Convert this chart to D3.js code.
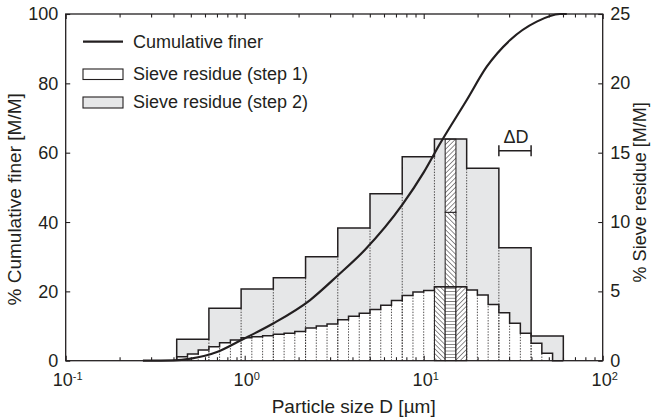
<!DOCTYPE html>
<html>
<head>
<meta charset="utf-8">
<script src="https://cdn.jsdelivr.net/npm/d3@7"></script>
<style>
body { margin: 0; background: #fff; }
text { font-family: "Liberation Sans", Arial, sans-serif; fill: #231f20; }
</style>
</head>
<body>
<div id="custom-container"></div>
<script>
/* Access data */
// sieve classes, step 2 (coarse) edges in µm and residue in % (right axis)
var coarseEdges = [0.417, 0.631, 0.955, 1.445, 2.188, 3.311, 5.012, 7.586, 11.48, 17.38, 26.30, 39.81, 60.26];
var coarseResidue = [1.54, 3.78, 5.17, 5.98, 7.50, 9.57, 12.04, 14.71, 15.98, 13.87, 8.15, 1.78];

// sieve classes, step 1 (fine) edges in µm and residue in % (right axis)
var fineEdges = [0.417, 0.479, 0.550, 0.631, 0.724, 0.832, 0.955, 1.096, 1.259, 1.445, 1.660, 1.905,
  2.188, 2.512, 2.884, 3.311, 3.802, 4.365, 5.012, 5.754, 6.607, 7.586, 8.710, 10.00,
  11.48, 13.18, 15.14, 17.38, 19.95, 22.91, 26.30, 30.20, 34.67, 39.81, 45.71, 52.48, 60.26];
var fineResidue = [0.29, 0.48, 0.77, 1.00, 1.30, 1.50, 1.65, 1.72, 1.80, 1.90, 1.98, 2.10,
  2.35, 2.50, 2.65, 2.95, 3.20, 3.42, 3.70, 4.00, 4.34, 4.70, 4.95, 5.06,
  5.33, 5.33, 5.33, 5.10, 4.74, 4.05, 3.46, 2.70, 1.98, 1.25, 0.53, 0];

// cumulative finer curve, D in µm and % (left axis)
var curveD = [0.27, 0.4, 0.5, 0.7, 0.96, 1.45, 2.32, 3.3, 4.7, 7.6, 10, 12.3, 17.4, 22.5, 30.4, 42.8, 57.7, 63];
var curvePct = [0, 0.1, 0.6, 2.5, 6.0, 10.8, 17.5, 24.5, 32, 45, 54.3, 62.5, 75.2, 84.8, 92.5, 97.8, 100, 100];

// highlighted class (hatched) and the split inside its column
var hatchCoarse = 8;
var hatchSplit = 10.7;
var deltaClass = 10;

var xDecades = [0.1, 1, 10, 100];
var xExponents = ["-1", "0", "1", "2"];
var leftTicks = [0, 20, 40, 60, 80, 100];
var rightTicks = [0, 5, 10, 15, 20, 25];
var legendLabels = ["Cumulative finer", "Sieve residue (step 1)", "Sieve residue (step 2)"];

// 2. Create chart dimensions
var dimensions = {
  width: 659,
  height: 419,
  margin: { top: 14, right: 56.3, bottom: 58.3, left: 65.7 }
};
dimensions.boundedWidth = dimensions.width - dimensions.margin.left - dimensions.margin.right;
dimensions.boundedHeight = dimensions.height - dimensions.margin.top - dimensions.margin.bottom;

var ink = "#231f20";
var grey = "#e6e7e8";

// 3. Draw canvas
var wrapper = d3.select("#custom-container")
  .append("svg")
  .attr("width", dimensions.width)
  .attr("height", dimensions.height);

var defs = wrapper.append("defs");
function hatch(id, angle, size) {
  var p = defs.append("pattern")
    .attr("id", id)
    .attr("patternUnits", "userSpaceOnUse")
    .attr("width", size).attr("height", size)
    .attr("patternTransform", "rotate(" + angle + ")");
  p.append("rect").attr("width", size).attr("height", size).attr("fill", "#fff");
  p.append("line").attr("x1", 0).attr("y1", 0).attr("x2", 0).attr("y2", size)
    .attr("stroke", ink).attr("stroke-width", 1);
}
hatch("back", -45, 3.4);
hatch("fwd", 45, 3.4);
hatch("horiz", 90, 3.3);

var bounds = wrapper.append("g")
  .attr("transform", `translate(${dimensions.margin.left}, ${dimensions.margin.top})`);

// 4. Create scales
var xScale = d3.scaleLog().domain([0.1, 100]).range([0, dimensions.boundedWidth]);
var yLeft = d3.scaleLinear().domain([0, 100]).range([dimensions.boundedHeight, 0]);
var yRight = d3.scaleLinear().domain([0, 25]).range([dimensions.boundedHeight, 0]);

function stepPoints(edges, values) {
  var pts = [[edges[0], 0]];
  values.forEach(function (v, i) {
    pts.push([edges[i], v]);
    pts.push([edges[i + 1], v]);
  });
  pts.push([edges[edges.length - 1], 0]);
  return pts;
}
var stepLine = d3.line()
  .x(d => xScale(d[0]))
  .y(d => yRight(d[1]));

// 5. Draw data
var coarsePts = stepPoints(coarseEdges, coarseResidue);
var finePts = stepPoints(fineEdges, fineResidue);

bounds.append("path").attr("d", stepLine(coarsePts) + "Z").attr("fill", grey);
bounds.append("path").attr("d", stepLine(finePts) + "Z").attr("fill", "#fff");

// dotted class boundaries
var dotted = [];
fineEdges.slice(1, -1).forEach(function (e, k) {
  var top = Math.min(fineResidue[k], fineResidue[k + 1]);
  dotted.push([e, top]);
});
coarseEdges.slice(1, -1).forEach(function (e, k) {
  var top = Math.min(coarseResidue[k], coarseResidue[k + 1]);
  dotted.push([e, top]);
});
bounds.append("g").selectAll("line").data(dotted).join("line")
  .attr("x1", d => xScale(d[0])).attr("x2", d => xScale(d[0]))
  .attr("y1", yRight(0)).attr("y2", d => yRight(d[1]))
  .attr("stroke", ink).attr("stroke-width", 0.8)
  .attr("stroke-dasharray", "1.4,1.4");

// hatched class
var f0 = hatchCoarse * 3;
var hatchRects = [
  { a: fineEdges[f0], b: fineEdges[f0 + 1], lo: 0, hi: fineResidue[f0], fill: "url(#back)" },
  { a: fineEdges[f0 + 1], b: fineEdges[f0 + 2], lo: 0, hi: fineResidue[f0 + 1], fill: "url(#horiz)" },
  { a: fineEdges[f0 + 2], b: fineEdges[f0 + 3], lo: 0, hi: fineResidue[f0 + 2], fill: "url(#fwd)" },
  { a: fineEdges[f0 + 1], b: fineEdges[f0 + 2], lo: fineResidue[f0 + 1], hi: hatchSplit, fill: "url(#back)" },
  { a: fineEdges[f0 + 1], b: fineEdges[f0 + 2], lo: hatchSplit, hi: coarseResidue[hatchCoarse], fill: "url(#fwd)" }
];
bounds.append("g").selectAll("rect").data(hatchRects).join("rect")
  .attr("x", d => xScale(d.a))
  .attr("width", d => xScale(d.b) - xScale(d.a))
  .attr("y", d => yRight(d.hi))
  .attr("height", d => yRight(d.lo) - yRight(d.hi))
  .attr("fill", d => d.fill)
  .attr("stroke", ink).attr("stroke-width", 1);

bounds.append("path").attr("d", stepLine(coarsePts))
  .attr("fill", "none").attr("stroke", ink).attr("stroke-width", 1.5);
bounds.append("path").attr("d", stepLine(finePts))
  .attr("fill", "none").attr("stroke", ink).attr("stroke-width", 1.5);

// cumulative curve
var curveData = curveD.map((d, i) => ({ x: d, y: curvePct[i] }));
var lineGenerator = d3.line()
  .x(d => xScale(d.x))
  .y(d => yLeft(d.y))
  .curve(d3.curveMonotoneX);
bounds.append("path")
  .attr("d", lineGenerator(curveData))
  .attr("fill", "none")
  .attr("stroke", ink)
  .attr("stroke-width", 2.2);

// ΔD marker
var dA = xScale(coarseEdges[deltaClass]), dB = xScale(coarseEdges[deltaClass + 1]);
var dY = 136.7;
var dMark = bounds.append("g").attr("stroke", ink).attr("stroke-width", 1.5);
dMark.append("line").attr("x1", dA).attr("x2", dB).attr("y1", dY).attr("y2", dY);
dMark.append("line").attr("x1", dA).attr("x2", dA).attr("y1", dY - 5.5).attr("y2", dY + 5.5);
dMark.append("line").attr("x1", dB).attr("x2", dB).attr("y1", dY - 5.5).attr("y2", dY + 5.5);
bounds.append("text").attr("x", (dA + dB) / 2 + 1).attr("y", dY - 7.5)
  .attr("text-anchor", "middle").style("font-size", "18px").text("ΔD");

// 6. Draw peripherals
var minorTicks = [];
[0.1, 1, 10].forEach(function (dec) {
  for (var m = 2; m <= 9; m++) minorTicks.push(dec * m);
});

function styleAxis(g) {
  g.select(".domain").remove();
  g.selectAll("line").attr("stroke", ink).attr("stroke-width", 1.1);
  g.selectAll("text").remove();
}
bounds.append("g").attr("transform", `translate(0, ${dimensions.boundedHeight})`)
  .call(d3.axisBottom(xScale).tickValues(minorTicks).tickSize(-3.5)).call(styleAxis);
bounds.append("g").attr("transform", `translate(0, ${dimensions.boundedHeight})`)
  .call(d3.axisBottom(xScale).tickValues(xDecades).tickSize(-5)).call(styleAxis);
bounds.append("g")
  .call(d3.axisTop(xScale).tickValues(minorTicks).tickSize(-3.5)).call(styleAxis);
bounds.append("g")
  .call(d3.axisTop(xScale).tickValues(xDecades).tickSize(-5)).call(styleAxis);
bounds.append("g")
  .call(d3.axisLeft(yLeft).tickValues(leftTicks).tickSize(-4.5)).call(styleAxis);
bounds.append("g").attr("transform", `translate(${dimensions.boundedWidth}, 0)`)
  .call(d3.axisRight(yRight).tickValues(rightTicks).tickSize(-4.5)).call(styleAxis);

// frame
bounds.append("rect")
  .attr("width", dimensions.boundedWidth).attr("height", dimensions.boundedHeight)
  .attr("fill", "none").attr("stroke", ink).attr("stroke-width", 1.3);

// tick labels
var xl = bounds.append("g").selectAll("text").data(xDecades).join("text")
  .attr("x", d => xScale(d) + 2)
  .attr("y", dimensions.boundedHeight + 25)
  .attr("text-anchor", "middle")
  .style("font-size", "18px");
xl.append("tspan").text("10");
xl.append("tspan").attr("dy", -5.5).style("font-size", "11px").text((d, i) => xExponents[i]);

bounds.append("g").selectAll("text").data(leftTicks).join("text")
  .attr("x", -7.5).attr("y", d => yLeft(d)).attr("dy", "0.36em")
  .attr("text-anchor", "end").style("font-size", "18px").text(d => d);
bounds.append("g").selectAll("text").data(rightTicks).join("text")
  .attr("x", dimensions.boundedWidth + 7.5).attr("y", d => yRight(d)).attr("dy", "0.34em")
  .attr("text-anchor", "start").style("font-size", "18px").text(d => d);

// axis titles
bounds.append("text")
  .attr("x", 288).attr("y", dimensions.boundedHeight + 52)
  .attr("text-anchor", "middle").style("font-size", "19px")
  .text("Particle size D [µm]");
bounds.append("text")
  .attr("transform", `translate(-45, ${dimensions.boundedHeight / 2 + 12}) rotate(-90)`)
  .attr("text-anchor", "middle").style("font-size", "19px")
  .text("% Cumulative finer [M/M]");
bounds.append("text")
  .attr("transform", `translate(${dimensions.boundedWidth + 43}, ${dimensions.boundedHeight / 2 + 5}) rotate(-90)`)
  .attr("text-anchor", "middle").style("font-size", "18px")
  .text("% Sieve residue [M/M]");

// legend
var legend = wrapper.append("g").attr("transform", "translate(83, 0)");
legend.append("line").attr("x1", 0).attr("x2", 40).attr("y1", 41.7).attr("y2", 41.7)
  .attr("stroke", ink).attr("stroke-width", 2.2);
legend.append("rect").attr("x", 0).attr("y", 69).attr("width", 40).attr("height", 10.5)
  .attr("fill", "#fff").attr("stroke", ink).attr("stroke-width", 1.1);
legend.append("rect").attr("x", 0).attr("y", 97).attr("width", 40).attr("height", 11)
  .attr("fill", grey).attr("stroke", ink).attr("stroke-width", 1.1);
legend.selectAll("text.lab").data(legendLabels).join("text")
  .attr("class", "lab")
  .attr("x", 50)
  .attr("y", (d, i) => [48, 80, 108][i])
  .style("font-size", "18px")
  .text(d => d);
</script>
</body>
</html>
